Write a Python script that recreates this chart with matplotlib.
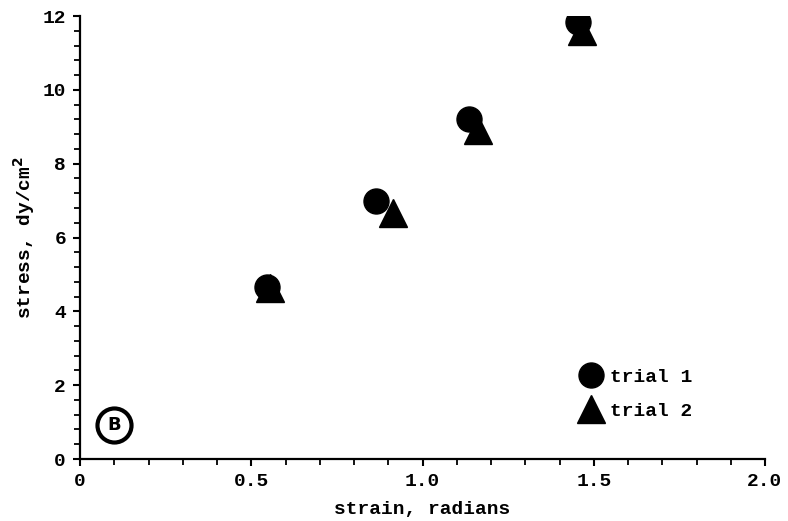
import matplotlib
matplotlib.use("Agg")
import matplotlib.pyplot as plt
from matplotlib.ticker import MultipleLocator

# data
strain_t1 = [0.545, 0.865, 1.135, 1.455]
stress_t1 = [4.65, 7.0, 9.22, 11.85]
strain_t2 = [0.555, 0.915, 1.162, 1.466]
stress_t2 = [4.62, 6.67, 8.9, 11.6]
labels = ["trial 1", "trial 2"]
xticks = [0, 0.5, 1.0, 1.5, 2.0]
xticklabels = ["0", "0.5", "1.0", "1.5", "2.0"]
yticks = [0, 2, 4, 6, 8, 10, 12]

mono = "Liberation Mono"
fs = 14

fig = plt.figure(figsize=(7.88, 5.21), dpi=100)
ax = fig.add_axes([80/788, 62/521, 685/788, 443/521])

ax.plot(strain_t1, stress_t1, ls="none", marker="o", ms=18, color="black", label=labels[0])
ax.plot(strain_t2, stress_t2, ls="none", marker="^", ms=20, color="black", label=labels[1])

ax.set_xlim(0, 2.0)
ax.set_ylim(0, 12)
ax.set_xticks(xticks)
ax.set_xticklabels(xticklabels)
ax.set_yticks(yticks)
ax.xaxis.set_minor_locator(MultipleLocator(0.1))
ax.yaxis.set_minor_locator(MultipleLocator(0.4))

for s in ["top", "right"]:
    ax.spines[s].set_visible(False)
for s in ["left", "bottom"]:
    ax.spines[s].set_linewidth(1.6)
ax.tick_params(which="major", length=5, width=1.5, direction="out", pad=5)
ax.tick_params(which="minor", length=4.5, width=1.3, direction="out")
for lab in ax.get_xticklabels() + ax.get_yticklabels():
    lab.set_fontfamily(mono)
    lab.set_fontweight("bold")
    lab.set_fontsize(fs)

ax.set_xlabel("strain, radians", fontfamily=mono, fontweight="bold", fontsize=fs, labelpad=8)
ax.set_ylabel("stress, dy/cm$^\\mathbf{2}$", fontfamily=mono, fontweight="bold", fontsize=fs, labelpad=4)

leg = ax.legend(loc="center left", bbox_to_anchor=(0.732, 0.147), frameon=False,
                handlelength=1.0, handletextpad=0.45, labelspacing=0.85, borderpad=0,
                borderaxespad=0, prop={"family": mono, "weight": "bold", "size": fs})

# panel label "B"
ax.plot([0.05], [0.077], marker="o", ms=24.5, mfc="none", mec="black", mew=3,
        transform=ax.transAxes, clip_on=False)
ax.text(0.05, 0.077, "B", transform=ax.transAxes, ha="center", va="center",
        fontsize=13, fontweight="heavy", family="DejaVu Sans")

fig.savefig("out.png", dpi=100)
